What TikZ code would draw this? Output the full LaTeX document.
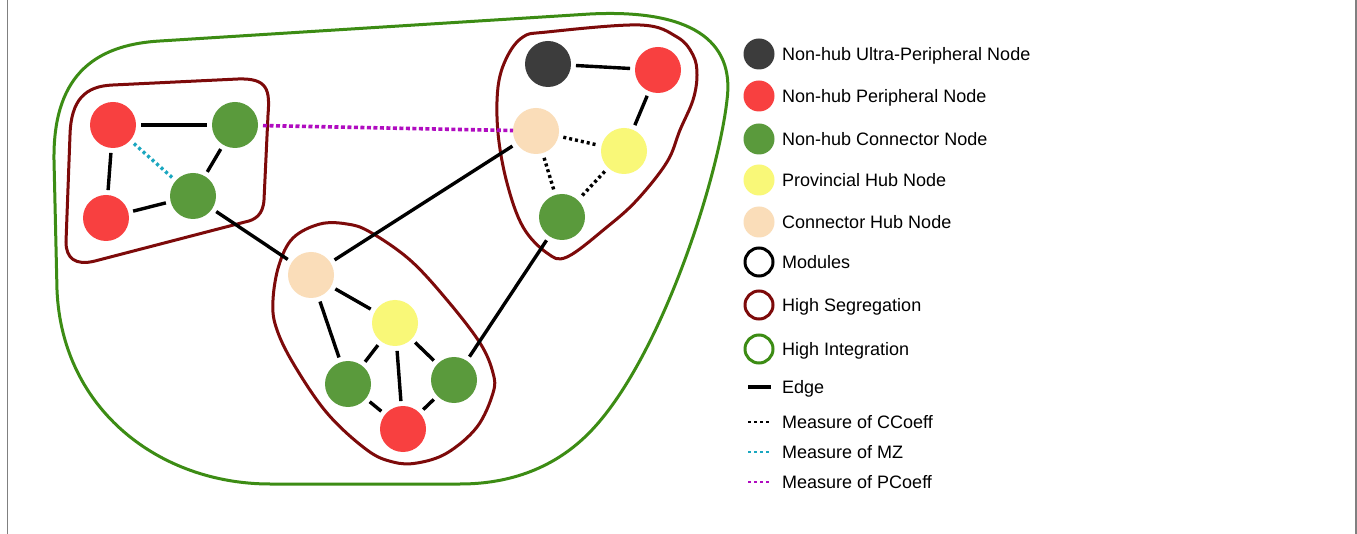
\documentclass[tikz,border=0pt]{standalone}
\usepackage{fontspec}
\setmainfont{Liberation Sans}
\definecolor{nred}{HTML}{F84040}
\definecolor{ngreen}{HTML}{5A9A3C}
\definecolor{ndark}{HTML}{3C3C3C}
\definecolor{nyellow}{HTML}{F9F878}
\definecolor{npeach}{HTML}{FADDB9}
\definecolor{segred}{HTML}{7D0A0A}
\definecolor{integgreen}{HTML}{3C8C14}
\definecolor{mzcyan}{HTML}{1AA7C0}
\definecolor{pcmag}{HTML}{B00CC0}
\begin{document}
\begin{tikzpicture}[x=1pt,y=-1pt,
  nd/.style={circle, minimum size=46pt, inner sep=0pt, outer sep=5pt, draw=none},
  redn/.style={nd, fill=nred},
  greenn/.style={nd, fill=ngreen},
  darkn/.style={nd, fill=ndark},
  yellown/.style={nd, fill=nyellow},
  peachn/.style={nd, fill=npeach},
  edge/.style={line width=3.4pt, black},
  ccoeff/.style={line width=3.4pt, black, dash pattern=on 3pt off 3pt},
  mz/.style={line width=3.4pt, mzcyan, dash pattern=on 3pt off 3pt},
  pcoeff/.style={line width=3.6pt, pcmag, dash pattern=on 4pt off 2.5pt},
  segline/.style={line width=3pt, segred},
  integline/.style={line width=3pt, integgreen},
  legdot/.style={circle, minimum size=31pt, inner sep=0pt},
  legring/.style={circle, minimum size=28pt, inner sep=0pt, line width=3pt},
  legtext/.style={anchor=base west, inner sep=0pt, font=\fontsize{18}{21}\selectfont},
]
\useasboundingbox (0,0) rectangle (1357,534);
\fill[white] (0,0) rectangle (1357,534);

% side rules of the frame
\draw[gray, line width=1.5pt] (7.5,0) -- (7.5,534);
\draw[gray, line width=1.5pt] (1356,0) -- (1356,534);

% high-integration envelope
\draw[integline] (160,41) -- (590,14)
  .. controls (690,9) and (735,40) .. (727,100)
  .. controls (718,180) and (660,360) .. (590,432)
  .. controls (555,468) and (510,484) .. (460,484)
  -- (270,484)
  .. controls (160,484) and (62,410) .. (57,290)
  -- (54,160)
  .. controls (53,80) and (90,45) .. (160,41) -- cycle;

% module outlines (high segregation)
\draw[segline] (113,85) -- (238,79)
  .. controls (268,78) and (270,90) .. (268,115)
  -- (264,200)
  .. controls (263,215) and (255,220) .. (245,222)
  -- (95,261)
  .. controls (75,266) and (66,258) .. (66,242)
  -- (70,135)
  .. controls (71,100) and (85,86) .. (113,85) -- cycle;

\draw[segline] plot[smooth cycle, tension=0.6] coordinates {
  (547,32) (640,25) (677,37) (693,55) (697,75) (693,100) (680,130)
  (667,162) (637,200) (607,227) (567,257) (547,253) (523,227)
  (507,183) (498,133) (498,87) (507,57) (523,37)};

\draw[segline] plot[smooth cycle, tension=0.6] coordinates {
  (347,224) (370,232) (410,260) (447,300) (480,343) (493,373)
  (493,393) (477,427) (447,453) (417,463) (393,462) (367,450)
  (327,413) (293,363) (276,327) (273,300) (279,265) (293,238) (320,224)};

% left module
\node[redn]   (l1) at (113,125) {};
\node[greenn] (l2) at (235,125) {};
\node[greenn] (l3) at (193,196) {};
\node[redn]   (l4) at (106,218) {};

% bottom module
\node[peachn]  (b1) at (311,275) {};
\node[yellown] (b2) at (395,323) {};
\node[greenn]  (b3) at (348,384) {};
\node[greenn]  (b4) at (454,380) {};
\node[redn]    (b5) at (403,429) {};

% right module
\node[darkn]   (r1) at (548,64) {};
\node[redn]    (r2) at (658,70) {};
\node[peachn]  (r3) at (536,131) {};
\node[yellown] (r4) at (624,151) {};
\node[greenn]  (r5) at (562,217) {};

% edges
\draw[edge] (l1) -- (l2);
\draw[edge] (l1) -- (l4);
\draw[edge] (l4) -- (l3);
\draw[edge] (l2) -- (l3);
\draw[mz] (l1) -- (l3);
\draw[edge] (l3) -- (b1);

\draw[edge] (b1) -- (b2);
\draw[edge] (b1) -- (b3);
\draw[edge] (b2) -- (b3);
\draw[edge] (b2) -- (b5);
\draw[edge] (b2) -- (b4);
\draw[edge] (b3) -- (b5);
\draw[edge] (b5) -- (b4);

\draw[edge] (r1) -- (r2);
\draw[edge] (r2) -- (r4);
\draw[ccoeff] (r3) -- (r4);
\draw[ccoeff] (r3) -- (r5);
\draw[ccoeff] (r4) -- (r5);

\draw[edge] (b1) -- (r3);
\draw[edge] (b4) -- (r5);
\draw[pcoeff, shorten >=-5pt] (l2) -- (r3);

% legend
\node[legdot, fill=ndark]   (g1) at (759,54) {};
\node[legdot, fill=nred]    (g2) at (759,96) {};
\node[legdot, fill=ngreen]  (g3) at (759,139) {};
\node[legdot, fill=nyellow] (g4) at (759,180) {};
\node[legdot, fill=npeach]  (g5) at (759,222) {};
\node[legring, draw=black]      (g6) at (759,262) {};
\node[legring, draw=segred]     (g7) at (759,305) {};
\node[legring, draw=integgreen] (g8) at (759,349) {};

\coordinate (e1a) at (748,387); \coordinate (e1b) at (771,387);
\coordinate (e2a) at (748,422); \coordinate (e2b) at (771,422);
\coordinate (e3a) at (748,452); \coordinate (e3b) at (771,452);
\coordinate (e4a) at (748,482); \coordinate (e4b) at (771,482);
\draw[edge] (e1a) -- (e1b);
\draw[black, line width=1.6pt, dash pattern=on 3pt off 3pt] (e2a) -- (e2b);
\draw[mzcyan, line width=2.8pt, dash pattern=on 3pt off 3pt] (e3a) -- (e3b);
\draw[pcmag, line width=2.8pt, dash pattern=on 3pt off 3pt] (e4a) -- (e4b);

\node[legtext] (t1) at (782,60.5) {Non-hub Ultra-Peripheral Node};
\node[legtext] (t2) at (782,102.5) {Non-hub Peripheral Node};
\node[legtext] (t3) at (782,145.5) {Non-hub Connector Node};
\node[legtext] (t4) at (782,186.5) {Provincial Hub Node};
\node[legtext] (t5) at (782,228.5) {Connector Hub Node};
\node[legtext] (t6) at (782,268.5) {Modules};
\node[legtext] (t7) at (782,311.5) {High Segregation};
\node[legtext] (t8) at (782,355.5) {High Integration};
\node[legtext] (t9) at (782,393.5) {Edge};
\node[legtext] (t10) at (782,428.5) {Measure of CCoeff};
\node[legtext] (t11) at (782,458.5) {Measure of MZ};
\node[legtext] (t12) at (782,488.5) {Measure of PCoeff};
\end{tikzpicture}
\end{document}
